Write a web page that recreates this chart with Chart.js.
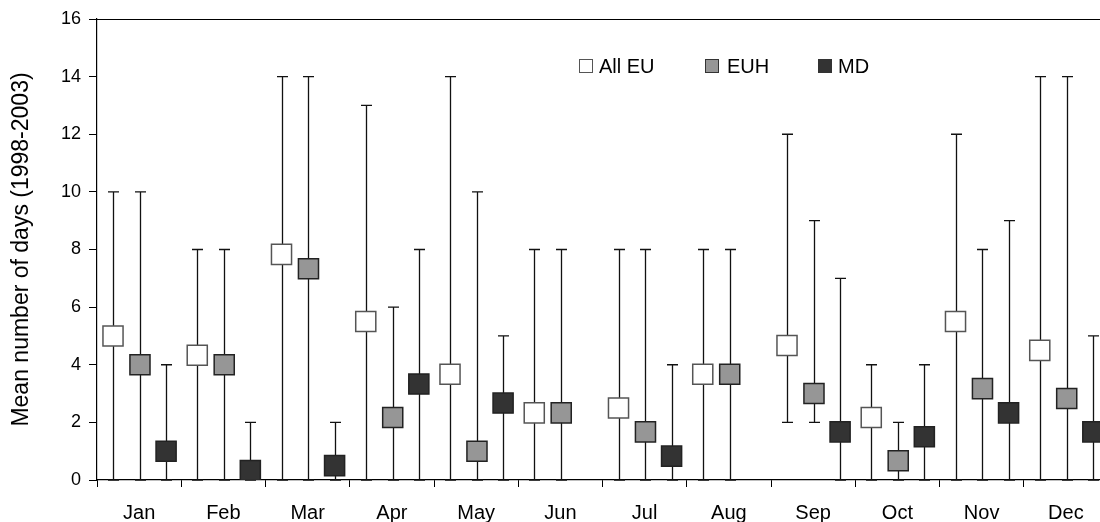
<!DOCTYPE html>
<html>
<head>
<meta charset="utf-8">
<script src="https://cdn.jsdelivr.net/npm/chart.js@4.4.1/dist/chart.umd.min.js"></script>
<style>
  html, body { margin: 0; padding: 0; overflow: hidden; background: #fff; }
  #wrap { position: relative; width: 1108px; height: 522px; }
  canvas { display: block; }
  .lg { position: absolute; font-family: "Liberation Sans", Arial, sans-serif; font-size: 20px; color: #000; line-height: 20px; white-space: nowrap; }
  .lg i { position: absolute; left: 0; top: 3px; width: 12px; height: 12px; border: 1.5px solid #333; }
  .lg span { position: absolute; top: 0; }
</style>
</head>
<body>
<div id="wrap">
  <canvas id="c" width="1108" height="522"></canvas>
  <div class="lg" style="left:579px; top:56px;"><i style="background:#fff; border-color:#555;"></i><span style="left:20px;">All EU</span></div>
  <div class="lg" style="left:705px; top:56px;"><i style="background:#969696;"></i><span style="left:22px;">EUH</span></div>
  <div class="lg" style="left:818px; top:56px;"><i style="background:#333;"></i><span style="left:20px;">MD</span></div>
</div>
<script>
const MONTHS = ['Jan','Feb','Mar','Apr','May','Jun','Jul','Aug','Sep','Oct','Nov','Dec'];
const Y_TICKS = [0, 2, 4, 6, 8, 10, 12, 14, 16];

const ALL_EU_MEAN = [5.0, 4.33, 7.83, 5.5, 3.67, 2.33, 2.5, 3.67, 4.67, 2.17, 5.5, 4.5];
const ALL_EU_MIN  = [0, 0, 0, 0, 0, 0, 0, 0, 2, 0, 0, 0];
const ALL_EU_MAX  = [10, 8, 14, 13, 14, 8, 8, 8, 12, 4, 12, 14];

const EUH_MEAN = [4.0, 4.0, 7.33, 2.17, 1.0, 2.33, 1.67, 3.67, 3.0, 0.67, 3.17, 2.83];
const EUH_MIN  = [0, 0, 0, 0, 0, 0, 0, 0, 2, 0, 0, 0];
const EUH_MAX  = [10, 8, 14, 6, 10, 8, 8, 8, 9, 2, 8, 14];

const MD_MEAN = [1.0, 0.33, 0.5, 3.33, 2.67, null, 0.83, null, 1.67, 1.5, 2.33, 1.67];
const MD_MIN  = [0, 0, 0, 0, 0, null, 0, null, 0, 0, 0, 0];
const MD_MAX  = [4, 2, 2, 8, 5, null, 4, null, 7, 4, 9, 5];

const SERIES_OFFSET = [-0.31, 0.01, 0.32];

function pts(mean, off) {
  return mean.map((v, i) => ({ x: i + off, y: v }));
}

const FONT = '"Liberation Sans", Arial, sans-serif';

const errorBars = {
  id: 'errorBars',
  beforeDatasetsDraw(chart) {
    const ctx = chart.ctx;
    const y = chart.scales.y;
    ctx.save();
    ctx.strokeStyle = '#111';
    ctx.lineWidth = 1.3;
    chart.data.datasets.forEach((ds, di) => {
      const meta = chart.getDatasetMeta(di);
      meta.data.forEach((pt, i) => {
        const lo = ds.errMin[i], hi = ds.errMax[i];
        if (lo == null || hi == null || ds.data[i].y == null) return;
        const x = Math.round(pt.x) + 0.5;
        const yl = y.getPixelForValue(lo), yh = y.getPixelForValue(hi);
        const cap = 5.5;
        ctx.beginPath();
        ctx.moveTo(x, yl); ctx.lineTo(x, yh);
        ctx.moveTo(x - cap, yh); ctx.lineTo(x + cap, yh);
        ctx.moveTo(x - cap, yl); ctx.lineTo(x + cap, yl);
        ctx.stroke();
      });
    });
    ctx.restore();
  }
};

const frame = {
  id: 'frame',
  afterDraw(chart) {
    const { ctx, chartArea: a } = chart;
    ctx.save();
    ctx.strokeStyle = '#000';
    ctx.lineWidth = 1.2;
    ctx.beginPath();
    ctx.moveTo(a.left, a.top + 0.5);
    ctx.lineTo(a.right, a.top + 0.5);
    ctx.lineTo(a.right, a.bottom);
    ctx.stroke();
    ctx.restore();
  }
};

new Chart(document.getElementById('c'), {
  type: 'line',
  data: {
    datasets: [
      { label: 'All EU', data: pts(ALL_EU_MEAN, SERIES_OFFSET[0]), errMin: ALL_EU_MIN, errMax: ALL_EU_MAX,
        xAxisID: 'xp', showLine: false, pointStyle: 'rect', pointRadius: 14.2,
        pointBackgroundColor: '#ffffff', pointBorderColor: '#555', pointBorderWidth: 1.5 },
      { label: 'EUH', data: pts(EUH_MEAN, SERIES_OFFSET[1]), errMin: EUH_MIN, errMax: EUH_MAX,
        xAxisID: 'xp', showLine: false, pointStyle: 'rect', pointRadius: 14.2,
        pointBackgroundColor: '#969696', pointBorderColor: '#222', pointBorderWidth: 1.5 },
      { label: 'MD', data: pts(MD_MEAN, SERIES_OFFSET[2]), errMin: MD_MIN, errMax: MD_MAX,
        xAxisID: 'xp', showLine: false, pointStyle: 'rect', pointRadius: 14.2,
        pointBackgroundColor: '#333333', pointBorderColor: '#222', pointBorderWidth: 1.5 }
    ]
  },
  options: {
    responsive: false,
    animation: false,
    devicePixelRatio: 1,
    layout: { autoPadding: false, padding: { top: 19, left: 0, right: 0, bottom: 0 } },
    plugins: { legend: { display: false }, tooltip: { enabled: false } },
    scales: {
      x: {
        type: 'category',
        labels: MONTHS,
        offset: true,
        grid: { offset: true, drawOnChartArea: false, drawTicks: true, tickLength: 7, color: '#000', lineWidth: 1 },
        border: { color: '#000', width: 1.2 },
        ticks: { color: '#000', font: { family: FONT, size: 20 }, padding: 14, maxRotation: 0, autoSkip: false },
        afterFit(s) { s.height = 42; }
      },
      xp: { type: 'linear', display: false, min: -0.5, max: 11.5 },
      y: {
        min: 0, max: 16,
        afterBuildTicks(s) { s.ticks = Y_TICKS.map(v => ({ value: v })); },
        grid: { drawOnChartArea: false, drawTicks: true, tickLength: 8, color: '#000', lineWidth: 1 },
        border: { color: '#000', width: 1.2 },
        ticks: { color: '#000', font: { family: FONT, size: 18 }, padding: 8 },
        title: { display: true, text: 'Mean number of days (1998-2003)', color: '#000', font: { family: FONT, size: 23 }, padding: { top: 8, bottom: 0 } },
        afterFit(s) { s.width = 97; }
      }
    }
  },
  plugins: [errorBars, frame]
});
</script>
</body>
</html>
